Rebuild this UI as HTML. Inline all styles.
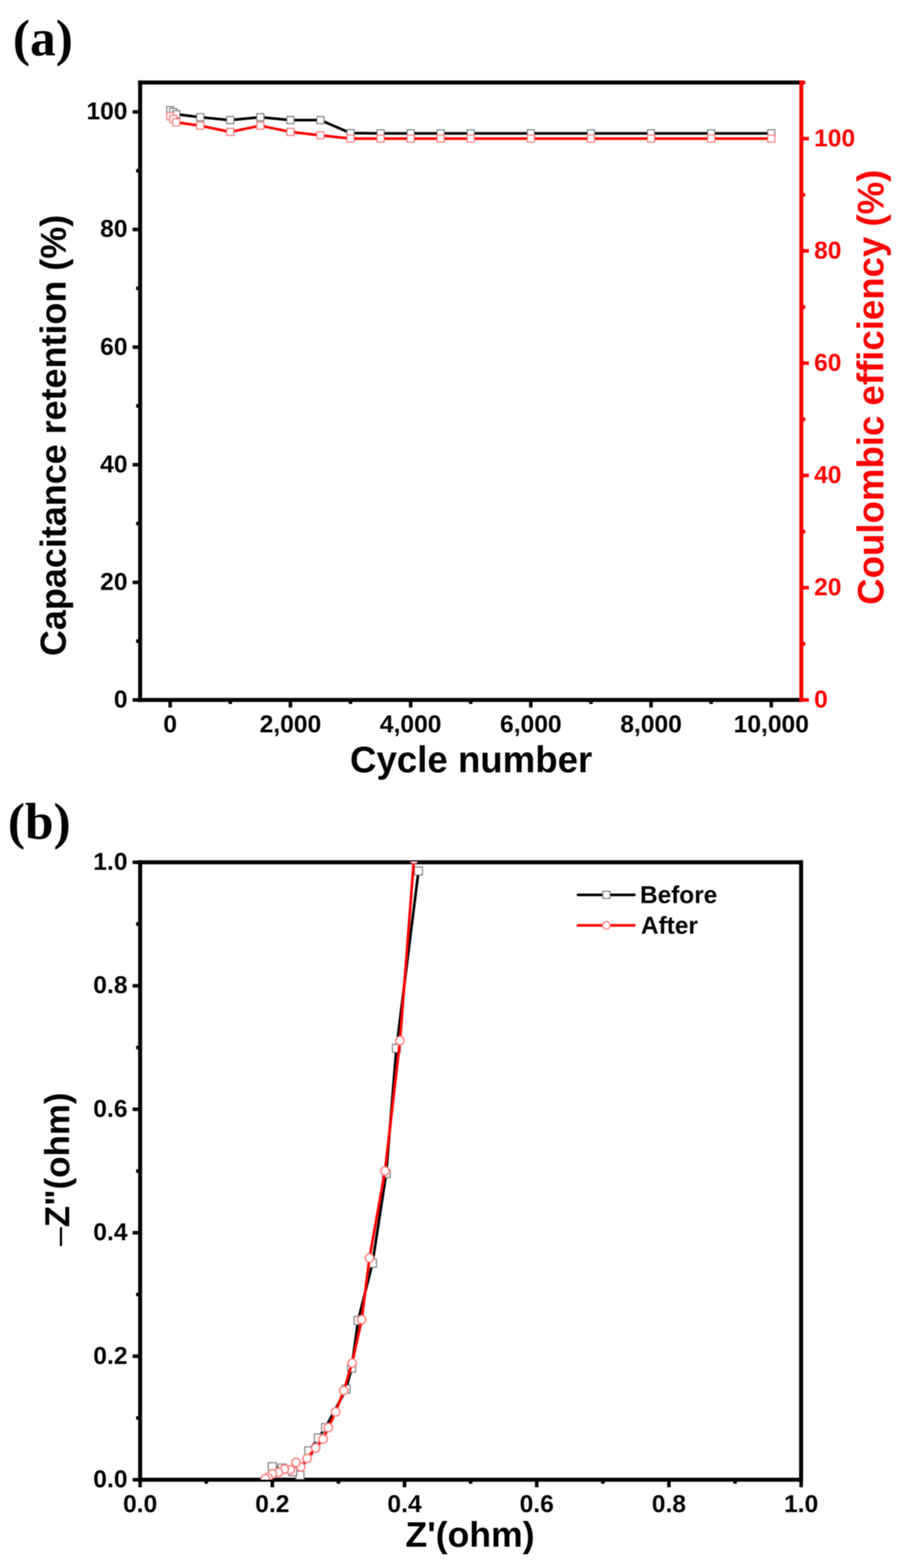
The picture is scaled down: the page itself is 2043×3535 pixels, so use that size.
<!DOCTYPE html>
<html><head><meta charset="utf-8"><title>Figure</title>
<style>html,body{margin:0;padding:0;background:#fff;}svg{display:block;filter:blur(0.8px);}</style></head>
<body><svg width="2043" height="3535" viewBox="0 0 2043 3535">
<rect width="2043" height="3535" fill="#fff"/>
<text x="29.1" y="125.4" font-family="'Liberation Serif', 'Times New Roman', serif" font-size="116" font-weight="bold" fill="#000" text-anchor="start">(a)</text>
<line x1="311.5" y1="186.0" x2="1807.0" y2="186.0" stroke="#000" stroke-width="9" stroke-linecap="butt"/>
<line x1="316.0" y1="181.5" x2="316.0" y2="1582.5" stroke="#000" stroke-width="9" stroke-linecap="butt"/>
<line x1="311.5" y1="1578.0" x2="1807.0" y2="1578.0" stroke="#000" stroke-width="9" stroke-linecap="butt"/>
<line x1="299.0" y1="1578.0" x2="316.0" y2="1578.0" stroke="#000" stroke-width="8" stroke-linecap="butt"/>
<text x="287.5" y="1595.0" font-family="'Liberation Sans', Arial, Helvetica, sans-serif" font-size="55.5" font-weight="bold" fill="#000" text-anchor="end">0</text>
<line x1="299.0" y1="1312.9" x2="316.0" y2="1312.9" stroke="#000" stroke-width="8" stroke-linecap="butt"/>
<text x="287.5" y="1329.9" font-family="'Liberation Sans', Arial, Helvetica, sans-serif" font-size="55.5" font-weight="bold" fill="#000" text-anchor="end">20</text>
<line x1="299.0" y1="1047.7" x2="316.0" y2="1047.7" stroke="#000" stroke-width="8" stroke-linecap="butt"/>
<text x="287.5" y="1064.7" font-family="'Liberation Sans', Arial, Helvetica, sans-serif" font-size="55.5" font-weight="bold" fill="#000" text-anchor="end">40</text>
<line x1="299.0" y1="782.6" x2="316.0" y2="782.6" stroke="#000" stroke-width="8" stroke-linecap="butt"/>
<text x="287.5" y="799.6" font-family="'Liberation Sans', Arial, Helvetica, sans-serif" font-size="55.5" font-weight="bold" fill="#000" text-anchor="end">60</text>
<line x1="299.0" y1="517.4" x2="316.0" y2="517.4" stroke="#000" stroke-width="8" stroke-linecap="butt"/>
<text x="287.5" y="534.4" font-family="'Liberation Sans', Arial, Helvetica, sans-serif" font-size="55.5" font-weight="bold" fill="#000" text-anchor="end">80</text>
<line x1="299.0" y1="252.3" x2="316.0" y2="252.3" stroke="#000" stroke-width="8" stroke-linecap="butt"/>
<text x="287.5" y="269.3" font-family="'Liberation Sans', Arial, Helvetica, sans-serif" font-size="55.5" font-weight="bold" fill="#000" text-anchor="end">100</text>
<line x1="307.0" y1="1445.4" x2="316.0" y2="1445.4" stroke="#000" stroke-width="8" stroke-linecap="butt"/>
<line x1="307.0" y1="1180.3" x2="316.0" y2="1180.3" stroke="#000" stroke-width="8" stroke-linecap="butt"/>
<line x1="307.0" y1="915.1" x2="316.0" y2="915.1" stroke="#000" stroke-width="8" stroke-linecap="butt"/>
<line x1="307.0" y1="650.0" x2="316.0" y2="650.0" stroke="#000" stroke-width="8" stroke-linecap="butt"/>
<line x1="307.0" y1="384.9" x2="316.0" y2="384.9" stroke="#000" stroke-width="8" stroke-linecap="butt"/>
<line x1="383.8" y1="1578.0" x2="383.8" y2="1595.0" stroke="#000" stroke-width="8" stroke-linecap="butt"/>
<text x="383.8" y="1651.0" font-family="'Liberation Sans', Arial, Helvetica, sans-serif" font-size="55.5" font-weight="bold" fill="#000" text-anchor="middle">0</text>
<line x1="654.9" y1="1578.0" x2="654.9" y2="1595.0" stroke="#000" stroke-width="8" stroke-linecap="butt"/>
<text x="654.9" y="1651.0" font-family="'Liberation Sans', Arial, Helvetica, sans-serif" font-size="55.5" font-weight="bold" fill="#000" text-anchor="middle">2,000</text>
<line x1="926.0" y1="1578.0" x2="926.0" y2="1595.0" stroke="#000" stroke-width="8" stroke-linecap="butt"/>
<text x="926.0" y="1651.0" font-family="'Liberation Sans', Arial, Helvetica, sans-serif" font-size="55.5" font-weight="bold" fill="#000" text-anchor="middle">4,000</text>
<line x1="1197.0" y1="1578.0" x2="1197.0" y2="1595.0" stroke="#000" stroke-width="8" stroke-linecap="butt"/>
<text x="1197.0" y="1651.0" font-family="'Liberation Sans', Arial, Helvetica, sans-serif" font-size="55.5" font-weight="bold" fill="#000" text-anchor="middle">6,000</text>
<line x1="1468.1" y1="1578.0" x2="1468.1" y2="1595.0" stroke="#000" stroke-width="8" stroke-linecap="butt"/>
<text x="1468.1" y="1651.0" font-family="'Liberation Sans', Arial, Helvetica, sans-serif" font-size="55.5" font-weight="bold" fill="#000" text-anchor="middle">8,000</text>
<line x1="1739.2" y1="1578.0" x2="1739.2" y2="1595.0" stroke="#000" stroke-width="8" stroke-linecap="butt"/>
<text x="1739.2" y="1651.0" font-family="'Liberation Sans', Arial, Helvetica, sans-serif" font-size="55.5" font-weight="bold" fill="#000" text-anchor="middle">10,000</text>
<line x1="519.3" y1="1578.0" x2="519.3" y2="1587.0" stroke="#000" stroke-width="8" stroke-linecap="butt"/>
<line x1="790.4" y1="1578.0" x2="790.4" y2="1587.0" stroke="#000" stroke-width="8" stroke-linecap="butt"/>
<line x1="1061.5" y1="1578.0" x2="1061.5" y2="1587.0" stroke="#000" stroke-width="8" stroke-linecap="butt"/>
<line x1="1332.6" y1="1578.0" x2="1332.6" y2="1587.0" stroke="#000" stroke-width="8" stroke-linecap="butt"/>
<line x1="1603.7" y1="1578.0" x2="1603.7" y2="1587.0" stroke="#000" stroke-width="8" stroke-linecap="butt"/>
<line x1="1807.0" y1="181.5" x2="1807.0" y2="1582.5" stroke="#ff0000" stroke-width="9" stroke-linecap="butt"/>
<line x1="1807.0" y1="1578.0" x2="1824.0" y2="1578.0" stroke="#ff0000" stroke-width="8" stroke-linecap="butt"/>
<text x="1835.7" y="1595.0" font-family="'Liberation Sans', Arial, Helvetica, sans-serif" font-size="55.5" font-weight="bold" fill="#ff0000" text-anchor="start">0</text>
<line x1="1807.0" y1="1324.9" x2="1824.0" y2="1324.9" stroke="#ff0000" stroke-width="8" stroke-linecap="butt"/>
<text x="1835.7" y="1341.9" font-family="'Liberation Sans', Arial, Helvetica, sans-serif" font-size="55.5" font-weight="bold" fill="#ff0000" text-anchor="start">20</text>
<line x1="1807.0" y1="1071.8" x2="1824.0" y2="1071.8" stroke="#ff0000" stroke-width="8" stroke-linecap="butt"/>
<text x="1835.7" y="1088.8" font-family="'Liberation Sans', Arial, Helvetica, sans-serif" font-size="55.5" font-weight="bold" fill="#ff0000" text-anchor="start">40</text>
<line x1="1807.0" y1="818.7" x2="1824.0" y2="818.7" stroke="#ff0000" stroke-width="8" stroke-linecap="butt"/>
<text x="1835.7" y="835.7" font-family="'Liberation Sans', Arial, Helvetica, sans-serif" font-size="55.5" font-weight="bold" fill="#ff0000" text-anchor="start">60</text>
<line x1="1807.0" y1="565.6" x2="1824.0" y2="565.6" stroke="#ff0000" stroke-width="8" stroke-linecap="butt"/>
<text x="1835.7" y="582.6" font-family="'Liberation Sans', Arial, Helvetica, sans-serif" font-size="55.5" font-weight="bold" fill="#ff0000" text-anchor="start">80</text>
<line x1="1807.0" y1="312.5" x2="1824.0" y2="312.5" stroke="#ff0000" stroke-width="8" stroke-linecap="butt"/>
<text x="1835.7" y="329.5" font-family="'Liberation Sans', Arial, Helvetica, sans-serif" font-size="55.5" font-weight="bold" fill="#ff0000" text-anchor="start">100</text>
<line x1="1807.0" y1="1451.5" x2="1816.0" y2="1451.5" stroke="#ff0000" stroke-width="8" stroke-linecap="butt"/>
<line x1="1807.0" y1="1198.4" x2="1816.0" y2="1198.4" stroke="#ff0000" stroke-width="8" stroke-linecap="butt"/>
<line x1="1807.0" y1="945.3" x2="1816.0" y2="945.3" stroke="#ff0000" stroke-width="8" stroke-linecap="butt"/>
<line x1="1807.0" y1="692.2" x2="1816.0" y2="692.2" stroke="#ff0000" stroke-width="8" stroke-linecap="butt"/>
<line x1="1807.0" y1="439.1" x2="1816.0" y2="439.1" stroke="#ff0000" stroke-width="8" stroke-linecap="butt"/>
<line x1="1807.0" y1="186.0" x2="1816.0" y2="186.0" stroke="#ff0000" stroke-width="8" stroke-linecap="butt"/>
<text x="0.0" y="0.0" font-family="'Liberation Sans', Arial, Helvetica, sans-serif" font-size="81" font-weight="bold" fill="#000" text-anchor="middle" transform="translate(147.8,981.6) rotate(-90)">Capacitance retention (%)</text>
<text x="0.0" y="0.0" font-family="'Liberation Sans', Arial, Helvetica, sans-serif" font-size="82.5" font-weight="bold" fill="#ff0000" text-anchor="middle" transform="translate(1991.5,872.9) rotate(-90)">Coulombic efficiency (%)</text>
<text x="1062.4" y="1741.0" font-family="'Liberation Sans', Arial, Helvetica, sans-serif" font-size="82.6" font-weight="bold" fill="#000" text-anchor="middle">Cycle number</text>
<polyline points="383.8,248.3 390.6,252.3 397.3,257.6 451.5,264.2 519.3,270.8 587.1,264.2 654.9,270.8 722.6,270.8 790.4,300.0 858.2,300.7 926.0,300.7 993.7,300.7 1061.5,300.7 1197.0,300.7 1332.6,300.7 1468.1,300.7 1603.7,300.7 1739.2,300.7" fill="none" stroke="#000" stroke-width="6" stroke-linejoin="round"/>
<rect x="375.8" y="240.3" width="16" height="16" fill="#fff" stroke="#808080" stroke-width="2.5"/>
<rect x="382.6" y="244.3" width="16" height="16" fill="#fff" stroke="#808080" stroke-width="2.5"/>
<rect x="389.3" y="249.6" width="16" height="16" fill="#fff" stroke="#808080" stroke-width="2.5"/>
<rect x="443.5" y="256.2" width="16" height="16" fill="#fff" stroke="#808080" stroke-width="2.5"/>
<rect x="511.3" y="262.8" width="16" height="16" fill="#fff" stroke="#808080" stroke-width="2.5"/>
<rect x="579.1" y="256.2" width="16" height="16" fill="#fff" stroke="#808080" stroke-width="2.5"/>
<rect x="646.9" y="262.8" width="16" height="16" fill="#fff" stroke="#808080" stroke-width="2.5"/>
<rect x="714.6" y="262.8" width="16" height="16" fill="#fff" stroke="#808080" stroke-width="2.5"/>
<rect x="782.4" y="292.0" width="16" height="16" fill="#fff" stroke="#808080" stroke-width="2.5"/>
<rect x="850.2" y="292.7" width="16" height="16" fill="#fff" stroke="#808080" stroke-width="2.5"/>
<rect x="918.0" y="292.7" width="16" height="16" fill="#fff" stroke="#808080" stroke-width="2.5"/>
<rect x="985.7" y="292.7" width="16" height="16" fill="#fff" stroke="#808080" stroke-width="2.5"/>
<rect x="1053.5" y="292.7" width="16" height="16" fill="#fff" stroke="#808080" stroke-width="2.5"/>
<rect x="1189.0" y="292.7" width="16" height="16" fill="#fff" stroke="#808080" stroke-width="2.5"/>
<rect x="1324.6" y="292.7" width="16" height="16" fill="#fff" stroke="#808080" stroke-width="2.5"/>
<rect x="1460.1" y="292.7" width="16" height="16" fill="#fff" stroke="#808080" stroke-width="2.5"/>
<rect x="1595.7" y="292.7" width="16" height="16" fill="#fff" stroke="#808080" stroke-width="2.5"/>
<rect x="1731.2" y="292.7" width="16" height="16" fill="#fff" stroke="#808080" stroke-width="2.5"/>
<polyline points="383.8,261.9 390.6,268.3 397.3,275.8 451.5,283.4 519.3,297.4 587.1,283.4 654.9,297.4 722.6,305.0 790.4,312.5 858.2,312.5 926.0,312.5 993.7,312.5 1061.5,312.5 1197.0,312.5 1332.6,312.5 1468.1,312.5 1603.7,312.5 1739.2,312.5" fill="none" stroke="#ff0000" stroke-width="6" stroke-linejoin="round"/>
<rect x="375.8" y="253.9" width="16" height="16" fill="#fff" stroke="#ff7a7a" stroke-width="2.5"/>
<rect x="382.6" y="260.3" width="16" height="16" fill="#fff" stroke="#ff7a7a" stroke-width="2.5"/>
<rect x="389.3" y="267.8" width="16" height="16" fill="#fff" stroke="#ff7a7a" stroke-width="2.5"/>
<rect x="443.5" y="275.4" width="16" height="16" fill="#fff" stroke="#ff7a7a" stroke-width="2.5"/>
<rect x="511.3" y="289.4" width="16" height="16" fill="#fff" stroke="#ff7a7a" stroke-width="2.5"/>
<rect x="579.1" y="275.4" width="16" height="16" fill="#fff" stroke="#ff7a7a" stroke-width="2.5"/>
<rect x="646.9" y="289.4" width="16" height="16" fill="#fff" stroke="#ff7a7a" stroke-width="2.5"/>
<rect x="714.6" y="297.0" width="16" height="16" fill="#fff" stroke="#ff7a7a" stroke-width="2.5"/>
<rect x="782.4" y="304.5" width="16" height="16" fill="#fff" stroke="#ff7a7a" stroke-width="2.5"/>
<rect x="850.2" y="304.5" width="16" height="16" fill="#fff" stroke="#ff7a7a" stroke-width="2.5"/>
<rect x="918.0" y="304.5" width="16" height="16" fill="#fff" stroke="#ff7a7a" stroke-width="2.5"/>
<rect x="985.7" y="304.5" width="16" height="16" fill="#fff" stroke="#ff7a7a" stroke-width="2.5"/>
<rect x="1053.5" y="304.5" width="16" height="16" fill="#fff" stroke="#ff7a7a" stroke-width="2.5"/>
<rect x="1189.0" y="304.5" width="16" height="16" fill="#fff" stroke="#ff7a7a" stroke-width="2.5"/>
<rect x="1324.6" y="304.5" width="16" height="16" fill="#fff" stroke="#ff7a7a" stroke-width="2.5"/>
<rect x="1460.1" y="304.5" width="16" height="16" fill="#fff" stroke="#ff7a7a" stroke-width="2.5"/>
<rect x="1595.7" y="304.5" width="16" height="16" fill="#fff" stroke="#ff7a7a" stroke-width="2.5"/>
<rect x="1731.2" y="304.5" width="16" height="16" fill="#fff" stroke="#ff7a7a" stroke-width="2.5"/>
<text x="17.7" y="1891.0" font-family="'Liberation Serif', 'Times New Roman', serif" font-size="116" font-weight="bold" fill="#000" text-anchor="start">(b)</text>
<line x1="311.5" y1="1944.0" x2="1811.0" y2="1944.0" stroke="#000" stroke-width="9" stroke-linecap="butt"/>
<line x1="316.0" y1="1939.5" x2="316.0" y2="3340.5" stroke="#000" stroke-width="9" stroke-linecap="butt"/>
<line x1="311.5" y1="3336.0" x2="1811.0" y2="3336.0" stroke="#000" stroke-width="9" stroke-linecap="butt"/>
<line x1="1806.5" y1="1939.5" x2="1806.5" y2="3340.5" stroke="#000" stroke-width="9" stroke-linecap="butt"/>
<line x1="299.0" y1="3336.0" x2="316.0" y2="3336.0" stroke="#000" stroke-width="8" stroke-linecap="butt"/>
<text x="287.5" y="3353.0" font-family="'Liberation Sans', Arial, Helvetica, sans-serif" font-size="55.5" font-weight="bold" fill="#000" text-anchor="end">0.0</text>
<line x1="316.0" y1="3336.0" x2="316.0" y2="3353.0" stroke="#000" stroke-width="8" stroke-linecap="butt"/>
<text x="316.0" y="3408.6" font-family="'Liberation Sans', Arial, Helvetica, sans-serif" font-size="55.5" font-weight="bold" fill="#000" text-anchor="middle">0.0</text>
<line x1="299.0" y1="3057.6" x2="316.0" y2="3057.6" stroke="#000" stroke-width="8" stroke-linecap="butt"/>
<text x="287.5" y="3074.6" font-family="'Liberation Sans', Arial, Helvetica, sans-serif" font-size="55.5" font-weight="bold" fill="#000" text-anchor="end">0.2</text>
<line x1="614.1" y1="3336.0" x2="614.1" y2="3353.0" stroke="#000" stroke-width="8" stroke-linecap="butt"/>
<text x="614.1" y="3408.6" font-family="'Liberation Sans', Arial, Helvetica, sans-serif" font-size="55.5" font-weight="bold" fill="#000" text-anchor="middle">0.2</text>
<line x1="299.0" y1="2779.2" x2="316.0" y2="2779.2" stroke="#000" stroke-width="8" stroke-linecap="butt"/>
<text x="287.5" y="2796.2" font-family="'Liberation Sans', Arial, Helvetica, sans-serif" font-size="55.5" font-weight="bold" fill="#000" text-anchor="end">0.4</text>
<line x1="912.2" y1="3336.0" x2="912.2" y2="3353.0" stroke="#000" stroke-width="8" stroke-linecap="butt"/>
<text x="912.2" y="3408.6" font-family="'Liberation Sans', Arial, Helvetica, sans-serif" font-size="55.5" font-weight="bold" fill="#000" text-anchor="middle">0.4</text>
<line x1="299.0" y1="2500.8" x2="316.0" y2="2500.8" stroke="#000" stroke-width="8" stroke-linecap="butt"/>
<text x="287.5" y="2517.8" font-family="'Liberation Sans', Arial, Helvetica, sans-serif" font-size="55.5" font-weight="bold" fill="#000" text-anchor="end">0.6</text>
<line x1="1210.3" y1="3336.0" x2="1210.3" y2="3353.0" stroke="#000" stroke-width="8" stroke-linecap="butt"/>
<text x="1210.3" y="3408.6" font-family="'Liberation Sans', Arial, Helvetica, sans-serif" font-size="55.5" font-weight="bold" fill="#000" text-anchor="middle">0.6</text>
<line x1="299.0" y1="2222.4" x2="316.0" y2="2222.4" stroke="#000" stroke-width="8" stroke-linecap="butt"/>
<text x="287.5" y="2239.4" font-family="'Liberation Sans', Arial, Helvetica, sans-serif" font-size="55.5" font-weight="bold" fill="#000" text-anchor="end">0.8</text>
<line x1="1508.4" y1="3336.0" x2="1508.4" y2="3353.0" stroke="#000" stroke-width="8" stroke-linecap="butt"/>
<text x="1508.4" y="3408.6" font-family="'Liberation Sans', Arial, Helvetica, sans-serif" font-size="55.5" font-weight="bold" fill="#000" text-anchor="middle">0.8</text>
<line x1="299.0" y1="1944.0" x2="316.0" y2="1944.0" stroke="#000" stroke-width="8" stroke-linecap="butt"/>
<text x="287.5" y="1961.0" font-family="'Liberation Sans', Arial, Helvetica, sans-serif" font-size="55.5" font-weight="bold" fill="#000" text-anchor="end">1.0</text>
<line x1="1806.5" y1="3336.0" x2="1806.5" y2="3353.0" stroke="#000" stroke-width="8" stroke-linecap="butt"/>
<text x="1806.5" y="3408.6" font-family="'Liberation Sans', Arial, Helvetica, sans-serif" font-size="55.5" font-weight="bold" fill="#000" text-anchor="middle">1.0</text>
<line x1="307.0" y1="3196.8" x2="316.0" y2="3196.8" stroke="#000" stroke-width="8" stroke-linecap="butt"/>
<line x1="465.1" y1="3336.0" x2="465.1" y2="3345.0" stroke="#000" stroke-width="8" stroke-linecap="butt"/>
<line x1="307.0" y1="2918.4" x2="316.0" y2="2918.4" stroke="#000" stroke-width="8" stroke-linecap="butt"/>
<line x1="763.2" y1="3336.0" x2="763.2" y2="3345.0" stroke="#000" stroke-width="8" stroke-linecap="butt"/>
<line x1="307.0" y1="2640.0" x2="316.0" y2="2640.0" stroke="#000" stroke-width="8" stroke-linecap="butt"/>
<line x1="1061.2" y1="3336.0" x2="1061.2" y2="3345.0" stroke="#000" stroke-width="8" stroke-linecap="butt"/>
<line x1="307.0" y1="2361.6" x2="316.0" y2="2361.6" stroke="#000" stroke-width="8" stroke-linecap="butt"/>
<line x1="1359.4" y1="3336.0" x2="1359.4" y2="3345.0" stroke="#000" stroke-width="8" stroke-linecap="butt"/>
<line x1="307.0" y1="2083.2" x2="316.0" y2="2083.2" stroke="#000" stroke-width="8" stroke-linecap="butt"/>
<line x1="1657.5" y1="3336.0" x2="1657.5" y2="3345.0" stroke="#000" stroke-width="8" stroke-linecap="butt"/>
<text x="0.0" y="0.0" font-family="'Liberation Sans', Arial, Helvetica, sans-serif" font-size="78.7" font-weight="bold" fill="#000" text-anchor="start" transform="translate(156,2766.8) rotate(-90)">Z"(ohm)</text>
<text x="0.0" y="0.0" font-family="'Liberation Sans', Arial, Helvetica, sans-serif" font-size="76" font-weight="normal" fill="#000" text-anchor="start" transform="translate(156.5,2808.9) rotate(-90)">–</text>
<text x="1059.9" y="3486.5" font-family="'Liberation Sans', Arial, Helvetica, sans-serif" font-size="80.3" font-weight="bold" fill="#000" text-anchor="middle">Z'(ohm)</text>
<clipPath id="cb"><rect x="316" y="1942" width="1490.5" height="1394"/></clipPath>
<g clip-path="url(#cb)">
<polyline points="943.7,1963.6 893.9,2363.4 870.9,2645.5 839.9,2848.0 807.5,2977.0 792.8,3084.4 780.5,3131.8 734.1,3218.4 718.0,3242.0 696.3,3271.0 676.5,3326.0 660.0,3318.0 636.2,3309.6 614.1,3306.5" fill="none" stroke="#000" stroke-width="6" stroke-linejoin="round"/>
<rect x="934.7" y="1954.6" width="18" height="18" fill="#fff" stroke="#808080" stroke-width="2.5"/>
<rect x="884.9" y="2354.4" width="18" height="18" fill="#fff" stroke="#808080" stroke-width="2.5"/>
<rect x="861.9" y="2636.5" width="18" height="18" fill="#fff" stroke="#808080" stroke-width="2.5"/>
<rect x="830.9" y="2839.0" width="18" height="18" fill="#fff" stroke="#808080" stroke-width="2.5"/>
<rect x="798.5" y="2968.0" width="18" height="18" fill="#fff" stroke="#808080" stroke-width="2.5"/>
<rect x="783.8" y="3075.4" width="18" height="18" fill="#fff" stroke="#808080" stroke-width="2.5"/>
<rect x="771.5" y="3122.8" width="18" height="18" fill="#fff" stroke="#808080" stroke-width="2.5"/>
<rect x="725.1" y="3209.4" width="18" height="18" fill="#fff" stroke="#808080" stroke-width="2.5"/>
<rect x="709.0" y="3233.0" width="18" height="18" fill="#fff" stroke="#808080" stroke-width="2.5"/>
<rect x="687.3" y="3262.0" width="18" height="18" fill="#fff" stroke="#808080" stroke-width="2.5"/>
<rect x="667.5" y="3317.0" width="18" height="18" fill="#fff" stroke="#808080" stroke-width="2.5"/>
<rect x="651.0" y="3309.0" width="18" height="18" fill="#fff" stroke="#808080" stroke-width="2.5"/>
<rect x="627.2" y="3300.6" width="18" height="18" fill="#fff" stroke="#808080" stroke-width="2.5"/>
<rect x="605.1" y="3297.5" width="18" height="18" fill="#fff" stroke="#808080" stroke-width="2.5"/>
<polyline points="933.5,1937.0 902.0,2346.0 868.2,2640.0 833.1,2836.0 815.6,2975.0 793.9,3073.0 775.3,3135.0 756.8,3183.0 740.3,3218.5 728.5,3244.5 711.8,3264.3 692.6,3287.8 678.2,3307.1 667.5,3297.2 654.3,3313.7 641.1,3312.0 627.9,3319.5 613.9,3322.8 604.0,3331.0 598.0,3334.0" fill="none" stroke="#ff0000" stroke-width="6" stroke-linejoin="round"/>
<circle cx="933.5" cy="1937.0" r="9.5" fill="#fff" stroke="#ff8080" stroke-width="3.2"/>
<circle cx="902.0" cy="2346.0" r="9.5" fill="#fff" stroke="#ff8080" stroke-width="3.2"/>
<circle cx="868.2" cy="2640.0" r="9.5" fill="#fff" stroke="#ff8080" stroke-width="3.2"/>
<circle cx="833.1" cy="2836.0" r="9.5" fill="#fff" stroke="#ff8080" stroke-width="3.2"/>
<circle cx="815.6" cy="2975.0" r="9.5" fill="#fff" stroke="#ff8080" stroke-width="3.2"/>
<circle cx="793.9" cy="3073.0" r="9.5" fill="#fff" stroke="#ff8080" stroke-width="3.2"/>
<circle cx="775.3" cy="3135.0" r="9.5" fill="#fff" stroke="#ff8080" stroke-width="3.2"/>
<circle cx="756.8" cy="3183.0" r="9.5" fill="#fff" stroke="#ff8080" stroke-width="3.2"/>
<circle cx="740.3" cy="3218.5" r="9.5" fill="#fff" stroke="#ff8080" stroke-width="3.2"/>
<circle cx="728.5" cy="3244.5" r="9.5" fill="#fff" stroke="#ff8080" stroke-width="3.2"/>
<circle cx="711.8" cy="3264.3" r="9.5" fill="#fff" stroke="#ff8080" stroke-width="3.2"/>
<circle cx="692.6" cy="3287.8" r="9.5" fill="#fff" stroke="#ff8080" stroke-width="3.2"/>
<circle cx="678.2" cy="3307.1" r="9.5" fill="#fff" stroke="#ff8080" stroke-width="3.2"/>
<circle cx="667.5" cy="3297.2" r="9.5" fill="#fff" stroke="#ff8080" stroke-width="3.2"/>
<circle cx="654.3" cy="3313.7" r="9.5" fill="#fff" stroke="#ff8080" stroke-width="3.2"/>
<circle cx="641.1" cy="3312.0" r="9.5" fill="#fff" stroke="#ff8080" stroke-width="3.2"/>
<circle cx="627.9" cy="3319.5" r="9.5" fill="#fff" stroke="#ff8080" stroke-width="3.2"/>
<circle cx="613.9" cy="3322.8" r="9.5" fill="#fff" stroke="#ff8080" stroke-width="3.2"/>
<circle cx="604.0" cy="3331.0" r="9.5" fill="#fff" stroke="#ff8080" stroke-width="3.2"/>
<circle cx="598.0" cy="3334.0" r="9.5" fill="#fff" stroke="#ff8080" stroke-width="3.2"/>
</g>
<line x1="1303.5" y1="2017.4" x2="1430.5" y2="2017.4" stroke="#000" stroke-width="6" stroke-linecap="round"/>
<rect x="1359.4" y="2009.4" width="16" height="16" fill="#fff" stroke="#808080" stroke-width="2.5"/>
<line x1="1303.5" y1="2086.3" x2="1430.5" y2="2086.3" stroke="#ff0000" stroke-width="6" stroke-linecap="round"/>
<circle cx="1367.4" cy="2086.3" r="8.5" fill="#fff" stroke="#ff8080" stroke-width="3"/>
<text x="1443.2" y="2036.0" font-family="'Liberation Sans', Arial, Helvetica, sans-serif" font-size="55" font-weight="bold" fill="#000" text-anchor="start">Before</text>
<text x="1445.3" y="2105.2" font-family="'Liberation Sans', Arial, Helvetica, sans-serif" font-size="55" font-weight="bold" fill="#000" text-anchor="start">After</text>
</svg></body></html>
